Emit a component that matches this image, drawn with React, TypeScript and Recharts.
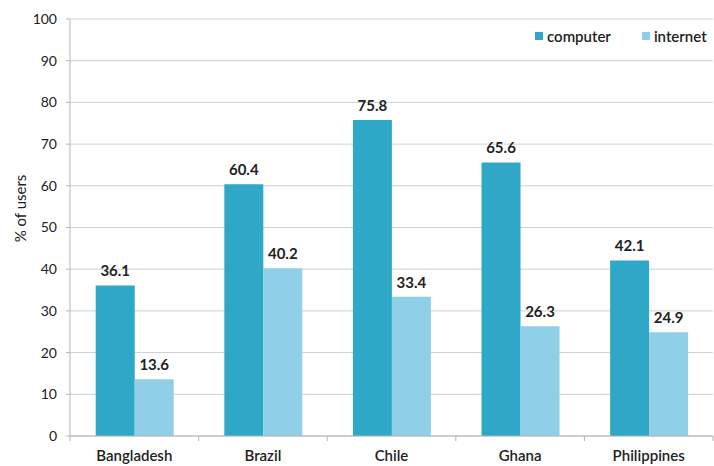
import React from 'react';
import {
  BarChart,
  Bar,
  XAxis,
  YAxis,
  CartesianGrid,
  LabelList,
} from 'recharts';

const countries = ['Bangladesh', 'Brazil', 'Chile', 'Ghana', 'Philippines'];
const computer = [36.1, 60.4, 75.8, 65.6, 42.1];
const internet = [13.6, 40.2, 33.4, 26.3, 24.9];
const yTicks = [0, 10, 20, 30, 40, 50, 60, 70, 80, 90, 100];

const COMPUTER_COLOR = '#2fa8c8';
const INTERNET_COLOR = '#8fcfe8';
const FONT = 'Lato, "Open Sans", sans-serif';

const W = 714;
const H = 466;
const Y_AXIS_W = 70;
const RIGHT = 1;
const BAND = (W - Y_AXIS_W - RIGHT) / countries.length;

const data = countries.map((name, i) => ({
  name,
  computer: computer[i],
  internet: internet[i],
}));

// category label plus a tick mark on each band boundary
const CategoryTick = (props: any) => {
  const { x, y, payload, index } = props;
  const axisY = y - 8;
  return (
    <g>
      <line x1={x - BAND / 2} y1={axisY} x2={x - BAND / 2} y2={axisY + 5} stroke="#b5b5b5" />
      {index === countries.length - 1 && (
        <line x1={x + BAND / 2} y1={axisY} x2={x + BAND / 2} y2={axisY + 5} stroke="#b5b5b5" />
      )}
      <text
        x={x}
        y={axisY + 25}
        textAnchor="middle"
        fontFamily={FONT}
        fontSize={15}
        fontWeight={600}
        fill="#222"
      >
        {payload.value}
      </text>
    </g>
  );
};

const legendItems = [
  { label: 'computer', color: COMPUTER_COLOR },
  { label: 'internet', color: INTERNET_COLOR },
];

const YLabel = (props: any) => {
  const { viewBox } = props;
  const cx = 20;
  const cy = viewBox.y + viewBox.height / 2 - 19;
  return (
    <text
      x={cx}
      y={cy}
      transform={`rotate(-90, ${cx}, ${cy})`}
      textAnchor="middle"
      dominantBaseline="central"
      fontFamily={FONT}
      fontSize={15}
      fill="#222"
    >
      % of users
    </text>
  );
};

const valueLabelStyle = { fontFamily: FONT, fontSize: 15, fontWeight: 700, fill: '#222' };

const App: React.FC = () => {
  return (
    <div style={{ position: 'absolute', left: 0, top: 0, width: W, height: H, background: '#fff' }}>
      <BarChart
        width={W}
        height={H}
        data={data}
        margin={{ top: 19, right: RIGHT, left: 0, bottom: 0 }}
        barCategoryGap="20%"
        barGap={0}
      >
        <CartesianGrid vertical={false} stroke="#cfcfcf" />
        <XAxis
          dataKey="name"
          height={30}
          axisLine={{ stroke: '#b5b5b5' }}
          tickLine={false}
          tick={<CategoryTick />}
          interval={0}
        />
        <YAxis
          width={Y_AXIS_W}
          domain={[0, 100]}
          ticks={yTicks}
          interval={0}
          axisLine={{ stroke: '#b5b5b5' }}
          tickLine={{ stroke: '#b5b5b5' }}
          tickSize={4}
          tickMargin={9}
          tick={{ fontFamily: FONT, fontSize: 14, fill: '#222' }}
          label={<YLabel />}
        />
        <Bar dataKey="computer" fill={COMPUTER_COLOR} isAnimationActive={false}>
          <LabelList dataKey="computer" position="top" offset={9} style={valueLabelStyle} />
        </Bar>
        <Bar dataKey="internet" fill={INTERNET_COLOR} isAnimationActive={false}>
          <LabelList dataKey="internet" position="top" offset={9} style={valueLabelStyle} />
        </Bar>
      </BarChart>
      {/* legend sits over the plot, top right, without shrinking it */}
      <div
        style={{
          position: 'absolute',
          left: 535,
          top: 27,
          display: 'flex',
          gap: 31,
          fontFamily: FONT,
          fontSize: 15,
          fontWeight: 600,
          color: '#222',
          background: '#fff',
        }}
      >
        {legendItems.map(item => (
          <div key={item.label} style={{ display: 'flex', alignItems: 'center' }}>
            <span style={{ width: 8, height: 8, background: item.color, marginRight: 4, display: 'inline-block' }} />
            {item.label}
          </div>
        ))}
      </div>
    </div>
  );
};

export default App;
